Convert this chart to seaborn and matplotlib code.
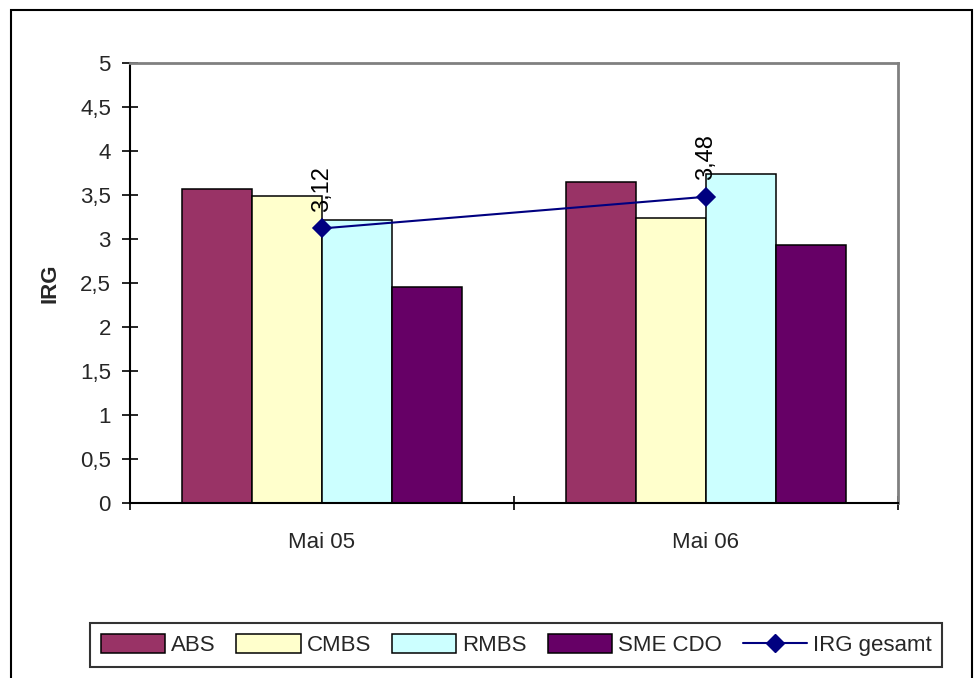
import matplotlib
matplotlib.use("Agg")
import matplotlib.pyplot as plt
import seaborn as sns
import pandas as pd
from matplotlib.patches import Patch, Rectangle
from matplotlib.lines import Line2D
from matplotlib.ticker import FuncFormatter, FixedLocator

# ---- data ----
categories = ["Mai 05", "Mai 06"]
series = ["ABS", "CMBS", "RMBS", "SME CDO"]
abs_vals = [3.57, 3.65]
cmbs_vals = [3.49, 3.24]
rmbs_vals = [3.22, 3.74]
sme_vals = [2.45, 2.93]
irg_gesamt = [3.12, 3.48]
line_label = "IRG gesamt"
y_label = "IRG"

colors = ["#993366", "#FFFFCC", "#CCFFFF", "#660066"]
line_color = "#000080"

df = pd.DataFrame({
    "Kategorie": categories * 4,
    "Serie": [s for s in series for _ in categories],
    "Wert": abs_vals + cmbs_vals + rmbs_vals + sme_vals,
})

sns.set_theme(style="white")
plt.rcParams["font.family"] = ["Liberation Sans", "DejaVu Sans"]
FS = 16

fig = plt.figure(figsize=(9.75, 6.78), dpi=100)
ax = fig.add_axes([130/975, 1-503/678, (898-130)/975, (503-63)/678])

sns.barplot(data=df, x="Kategorie", y="Wert", hue="Serie", order=categories,
            hue_order=series, palette=colors, width=0.729, gap=0,
            edgecolor="black", linewidth=1.1, saturation=1, ax=ax, legend=False)

sns.pointplot(x=categories, y=irg_gesamt, color=line_color, markers="D",
              markersize=9, linewidth=1.5, ax=ax, errorbar=None)

for i, v in enumerate(irg_gesamt):
    ax.annotate(f"{v:.2f}".replace(".", ","), xy=(i, v), xytext=(0, 12),
                textcoords="offset points", rotation=90, ha="center",
                va="bottom", fontsize=17, color="black")

ax.set_xlim(-0.5, 1.5)
ax.set_ylim(0, 5)
ax.set_yticks([0, 0.5, 1, 1.5, 2, 2.5, 3, 3.5, 4, 4.5, 5])
ax.yaxis.set_major_formatter(FuncFormatter(lambda v, p: f"{v:g}".replace(".", ",")))
ax.tick_params(axis="y", direction="inout", length=11.5, width=1.2,
               color="black", labelsize=FS, pad=8, left=True)
ax.set_xticks([0, 1])
ax.set_xticklabels(categories)
ax.xaxis.set_minor_locator(FixedLocator([-0.5, 0.5, 1.5]))
ax.tick_params(axis="x", which="major", length=0, labelsize=FS, pad=21)
ax.tick_params(axis="x", which="minor", direction="inout", length=10,
               width=1.2, color="black", bottom=True)
ax.set_xlabel("")
ax.set_ylabel(y_label, fontsize=FS, fontweight="bold", labelpad=14)

for side in ["top", "right"]:
    ax.spines[side].set_visible(True)
    ax.spines[side].set_color("#808080")
    ax.spines[side].set_linewidth(2)
for side in ["left", "bottom"]:
    ax.spines[side].set_color("black")
    ax.spines[side].set_linewidth(1.5)
ax.grid(False)

handles = [Patch(facecolor=c, edgecolor="black", linewidth=1.1) for c in colors]
handles.append(Line2D([0], [0], color=line_color, marker="D", markersize=9, linewidth=1.5))
labels = series + [line_label]
leg = fig.legend(handles, labels, loc="center", bbox_to_anchor=(516/975, 1-645/678),
                 ncol=5, frameon=True, fancybox=False, edgecolor="black",
                 fontsize=FS, handlelength=2.9, handleheight=0.95,
                 handletextpad=0.25, columnspacing=0.95, borderpad=0.5)
leg.get_frame().set_linewidth(1.5)

fig.patches.append(Rectangle((11/975, -0.01), (972-11)/975, 1.01-10/678,
                             transform=fig.transFigure, fill=False,
                             edgecolor="black", linewidth=1.5))

fig.savefig("out.png", dpi=100)
